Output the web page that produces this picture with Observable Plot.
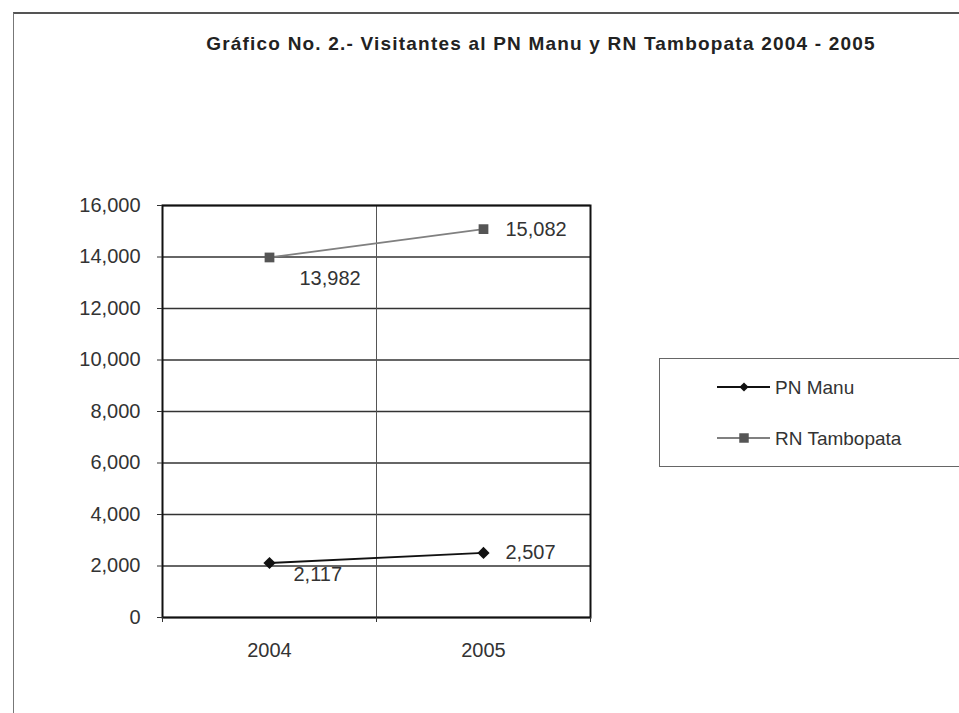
<!DOCTYPE html>
<html>
<head>
<meta charset="utf-8">
<script src="https://cdn.jsdelivr.net/npm/d3@7"></script>
<script src="https://cdn.jsdelivr.net/npm/@observablehq/plot@0.6"></script>
<style>
  html, body { margin: 0; padding: 0; background: #fff; overflow: hidden; }
  #wrap { position: relative; width: 959px; height: 713px; font-family: Arial, "Liberation Sans", sans-serif; }
  #border { position: absolute; left: 13px; top: 12px; width: 960px; height: 720px;
            border-left: 1.5px solid #777; border-top: 2px solid #555; }
  #title { position: absolute; left: 0; width: 1082px; top: 33px; text-align: center;
           font-size: 19px; font-weight: bold; color: #222; letter-spacing: 1.2px; }
  #legend { position: absolute; left: 659px; top: 358px; width: 320px; height: 107px;
            border: 1px solid #666; }
  #chart { position: absolute; left: 0; top: 0; }
</style>
</head>
<body>
<div id="wrap">
  <div id="border"></div>
  <div id="title">Gráfico No. 2.- Visitantes al PN Manu y RN Tambopata 2004 - 2005</div>
  <div id="chart"></div>
  <div id="legend"></div>
</div>
<script>
const years = [2004, 2005];
const seriesNames = ["PN Manu", "RN Tambopata"];
const manuValues = [2117, 2507];
const tambopataValues = [13982, 15082];
const yTicks = [0, 2000, 4000, 6000, 8000, 10000, 12000, 14000, 16000];
const seriesColors = ["#111", "#808080"];
const markerColors = ["#111", "#555"];

const data = years.flatMap((yr, i) => [
  {year: yr, series: seriesNames[0], value: manuValues[i]},
  {year: yr, series: seriesNames[1], value: tambopataValues[i]}
]);

const fmt = d3.format(",");

function labelMark(yr, s, dx, dy) {
  return Plot.text(data.filter(d => d.year === yr && d.series === s), {
    x: "year", y: "value", text: d => fmt(d.value),
    textAnchor: "start", dx, dy, fill: "#333", fontSize: 20
  });
}

const chart = Plot.plot({
  width: 959, height: 713,
  marginLeft: 162, marginRight: 369, marginTop: 205, marginBottom: 96,
  style: {fontFamily: "Arial, 'Liberation Sans', sans-serif", fontSize: "20px", color: "#333", background: "transparent"},
  x: {type: "linear", domain: [2003.5, 2005.5], axis: null, label: null},
  y: {domain: [0, 16000], axis: null, label: null},
  marks: [
    Plot.ruleY(yTicks, {stroke: "#333", strokeWidth: 1.3}),
    Plot.ruleX([2004.5], {stroke: "#555", strokeWidth: 1}),
    Plot.frame({stroke: "#111", strokeWidth: 2}),
    Plot.axisY(yTicks, {tickFormat: fmt, tickSize: 5, tickPadding: 17, fontSize: 20, stroke: "#333", label: null}),
    Plot.axisX([2003.5, 2004.5, 2005.5], {tickFormat: () => "", tickSize: 5, stroke: "#333", label: null}),
    Plot.axisX(years, {tickFormat: d => String(d), tickSize: 0, tickPadding: 25, fontSize: 20, label: null}),
    Plot.line(data.filter(d => d.series === seriesNames[0]), {x: "year", y: "value", stroke: seriesColors[0], strokeWidth: 1.8}),
    Plot.line(data.filter(d => d.series === seriesNames[1]), {x: "year", y: "value", stroke: seriesColors[1], strokeWidth: 1.8}),
    Plot.dot(data.filter(d => d.series === seriesNames[0]), {x: "year", y: "value", symbol: "diamond2", r: 5.5, fill: markerColors[0], stroke: "none"}),
    Plot.dot(data.filter(d => d.series === seriesNames[1]), {x: "year", y: "value", symbol: "square", r: 5.5, fill: markerColors[1], stroke: "none"}),
    labelMark(2004, seriesNames[1], 30, 21),
    labelMark(2005, seriesNames[1], 22, 0),
    labelMark(2004, seriesNames[0], 24, 12),
    labelMark(2005, seriesNames[0], 22, 0)
  ]
});
document.getElementById("chart").appendChild(chart);

// legend
const lg = d3.select("#legend").append("svg").attr("width", 320).attr("height", 107);
seriesNames.forEach((s, i) => {
  const cy = 28 + i * 51;
  lg.append("line").attr("x1", 57).attr("x2", 110).attr("y1", cy).attr("y2", cy)
    .attr("stroke", seriesColors[i]).attr("stroke-width", 1.8);
  lg.append("path").attr("transform", i === 0 ? `translate(84,${cy}) rotate(45)` : `translate(84,${cy})`)
    .attr("d", d3.symbol(d3.symbolSquare, i === 0 ? 42 : 90)())
    .attr("fill", markerColors[i]);
  lg.append("text").attr("x", 115).attr("y", cy).attr("dy", "0.35em")
    .attr("font-size", 19).attr("fill", "#333").text(s);
});
</script>
</body>
</html>
